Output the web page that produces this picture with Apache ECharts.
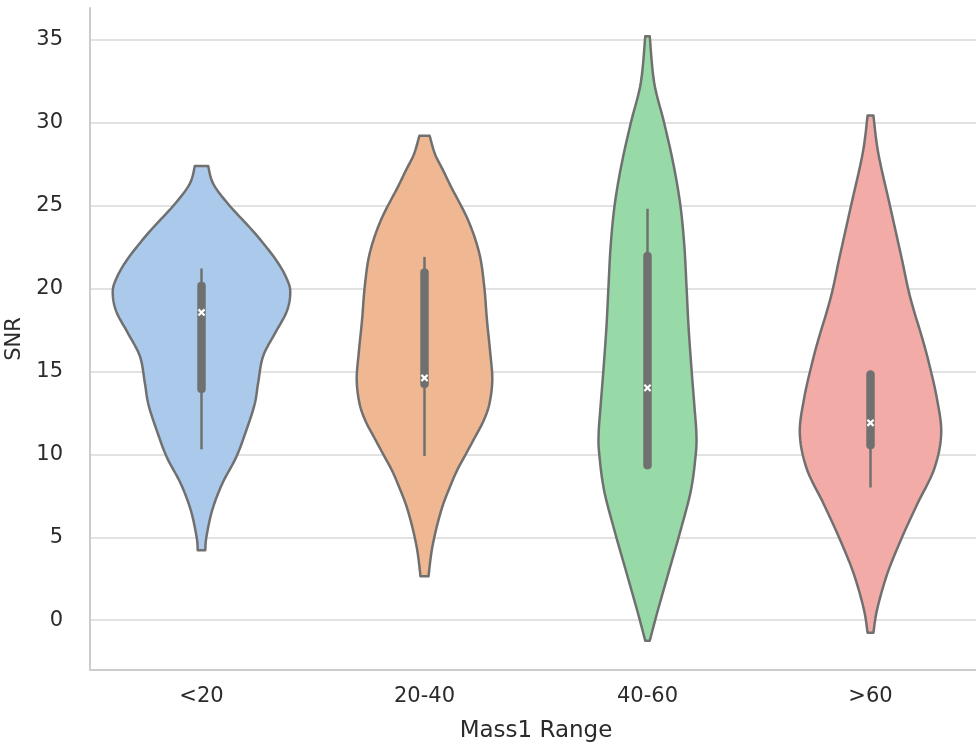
<!DOCTYPE html>
<html>
<head>
<meta charset="utf-8">
<script src="https://cdn.jsdelivr.net/npm/echarts@6/dist/echarts.min.js"></script>
<style>
  html, body { margin: 0; padding: 0; background: #ffffff; }
  #chart { width: 976px; height: 745px; }
</style>
</head>
<body>
<div id="chart"></div>
<script>
// Mass ranges on the x axis
const categories = ['<20', '20-40', '40-60', '>60'];
// SNR tick labels
const yTicks = [0, 5, 10, 15, 20, 25, 30, 35];

// Violin outlines: [SNR, half width as a fraction of the category band], top to bottom
const profileLt20 = [
  [27.37, 0.030], [26.3, 0.053], [25.0, 0.125], [23.3, 0.241], [21.7, 0.335],
  [20.5, 0.385], [19.7, 0.398], [18.6, 0.382], [17.3, 0.330], [15.9, 0.276],
  [14.3, 0.254], [13.0, 0.238], [11.45, 0.201], [9.84, 0.156], [8.23, 0.093],
  [6.63, 0.048], [5.02, 0.022], [4.22, 0.017]
];
const profile20to40 = [
  [29.2, 0.023], [28.1, 0.047], [27.1, 0.084], [26.1, 0.120], [24.1, 0.196],
  [22.1, 0.246], [20.1, 0.268], [18.1, 0.280], [16.1, 0.295], [14.5, 0.304],
  [13.1, 0.292], [12.05, 0.266], [11.0, 0.225], [10.05, 0.187], [9.0, 0.145],
  [8.0, 0.113], [7.0, 0.084], [6.0, 0.062], [5.0, 0.044], [4.0, 0.030], [2.65, 0.018]
];
const profile40to60 = [
  [35.2, 0.010], [32.4, 0.030], [29.96, 0.075], [27.5, 0.116], [25.05, 0.147],
  [22.6, 0.165], [20.1, 0.175], [17.7, 0.184], [15.2, 0.197], [12.8, 0.211],
  [11.3, 0.219], [10.1, 0.217], [7.85, 0.195], [5.4, 0.148], [2.9, 0.095],
  [0.48, 0.044], [-1.24, 0.010]
];
const profileGt60 = [
  [30.42, 0.013], [28.14, 0.035], [25.0, 0.087], [21.8, 0.140], [19.9, 0.170],
  [18.6, 0.196], [17.0, 0.232], [15.5, 0.262], [13.35, 0.298], [11.24, 0.317],
  [9.13, 0.286], [7.01, 0.210], [4.9, 0.138], [2.79, 0.075], [0.67, 0.030],
  [-0.76, 0.013]
];

// Inner box plot statistics per category
const whiskerLow  = [10.3, 9.9, 9.1, 8.0];
const quartile1   = [13.7, 14.0, 9.1, 10.3];
const medians     = [18.55, 14.6, 14.0, 11.9];
const quartile3   = [20.4, 21.2, 22.2, 15.05];
const whiskerHigh = [21.2, 21.9, 24.8, 15.05];

const violinColors = ['#abc9ea', '#efb792', '#98daa7', '#f3aba8'];

const profiles = [profileLt20, profile20to40, profile40to60, profileGt60];
const outline = '#707070';
const textColor = '#2b2b2b';
const font = 'DejaVu Sans';

// Traces a smooth Catmull-Rom curve through the given screen points
function smoothEdge(pts) {
  const out = [pts[0]];
  const steps = 10;
  for (let k = 0; k < pts.length - 1; k++) {
    const p0 = pts[k - 1] || pts[k];
    const p1 = pts[k];
    const p2 = pts[k + 1];
    const p3 = pts[k + 2] || p2;
    const c1 = [p1[0] + (p2[0] - p0[0]) / 6, p1[1] + (p2[1] - p0[1]) / 6];
    const c2 = [p2[0] - (p3[0] - p1[0]) / 6, p2[1] - (p3[1] - p1[1]) / 6];
    for (let s = 1; s <= steps; s++) {
      const t = s / steps, u = 1 - t;
      const a = u * u * u, b = 3 * u * u * t, c = 3 * u * t * t, d = t * t * t;
      out.push([
        a * p1[0] + b * c1[0] + c * c2[0] + d * p2[0],
        a * p1[1] + b * c1[1] + c * c2[1] + d * p2[1]
      ]);
    }
  }
  return out;
}

function renderViolin(params, api) {
  const i = api.value(0);
  const prof = profiles[i];
  const cx = api.coord([i, 0])[0];
  const band = api.size([1, 0])[0];
  const right = prof.map(p => [cx + p[1] * band, api.coord([i, p[0]])[1]]);
  const left = prof.slice().reverse().map(p => [cx - p[1] * band, api.coord([i, p[0]])[1]]);
  const pts = smoothEdge(right).concat(smoothEdge(left));

  const yLow = api.coord([i, whiskerLow[i]])[1];
  const yHigh = api.coord([i, whiskerHigh[i]])[1];
  const yQ1 = api.coord([i, quartile1[i]])[1];
  const yQ3 = api.coord([i, quartile3[i]])[1];
  const yMed = api.coord([i, medians[i]])[1];
  const boxW = 8.5;
  const m = 3.1;

  return {
    type: 'group',
    children: [
      {
        type: 'polygon',
        shape: { points: pts },
        style: { fill: violinColors[i], stroke: outline, lineWidth: 2.5, lineJoin: 'round' }
      },
      {
        type: 'line',
        shape: { x1: cx, y1: yLow, x2: cx, y2: yHigh },
        style: { stroke: outline, lineWidth: 2.5 }
      },
      {
        type: 'rect',
        shape: { x: cx - boxW / 2, y: yQ3, width: boxW, height: yQ1 - yQ3, r: 4 },
        style: { fill: outline }
      },
      {
        type: 'line',
        shape: { x1: cx - m, y1: yMed - m, x2: cx + m, y2: yMed + m },
        style: { stroke: '#ffffff', lineWidth: 2.2 }
      },
      {
        type: 'line',
        shape: { x1: cx - m, y1: yMed + m, x2: cx + m, y2: yMed - m },
        style: { stroke: '#ffffff', lineWidth: 2.2 }
      }
    ]
  };
}

const chart = echarts.init(document.getElementById('chart'), null, { renderer: 'canvas' });
chart.setOption({
  animation: false,
  backgroundColor: '#ffffff',
  grid: { left: 90, top: 8, width: 892, bottom: 75, containLabel: false, outerBoundsMode: 'none' },
  xAxis: {
    type: 'category',
    data: categories,
    boundaryGap: true,
    name: 'Mass1 Range',
    nameLocation: 'middle',
    nameGap: 50,
    nameTextStyle: { fontFamily: font, fontSize: 23, color: textColor },
    axisLine: { show: true, onZero: false, lineStyle: { color: '#cccccc', width: 2 } },
    axisTick: { show: false },
    axisLabel: { margin: 16, fontFamily: font, fontSize: 21, color: textColor },
    splitLine: { show: false }
  },
  yAxis: {
    type: 'value',
    min: -3.0,
    max: 36.9,
    name: 'SNR',
    nameLocation: 'middle',
    nameGap: 57,
    nameTextStyle: { fontFamily: font, fontSize: 21, color: textColor },
    axisLine: { show: true, lineStyle: { color: '#cccccc', width: 2 } },
    axisTick: { show: false, customValues: yTicks },
    axisLabel: { customValues: yTicks, margin: 27, fontFamily: font, fontSize: 21, color: textColor },
    splitLine: { show: true, lineStyle: { color: '#d9d9d9', width: 1.5 } }
  },
  series: [{
    type: 'custom',
    renderItem: renderViolin,
    data: categories.map((c, i) => [i, medians[i]]),
    encode: { x: 0, y: 1 },
    clip: false,
    z: 3
  }]
});
</script>
</body>
</html>
